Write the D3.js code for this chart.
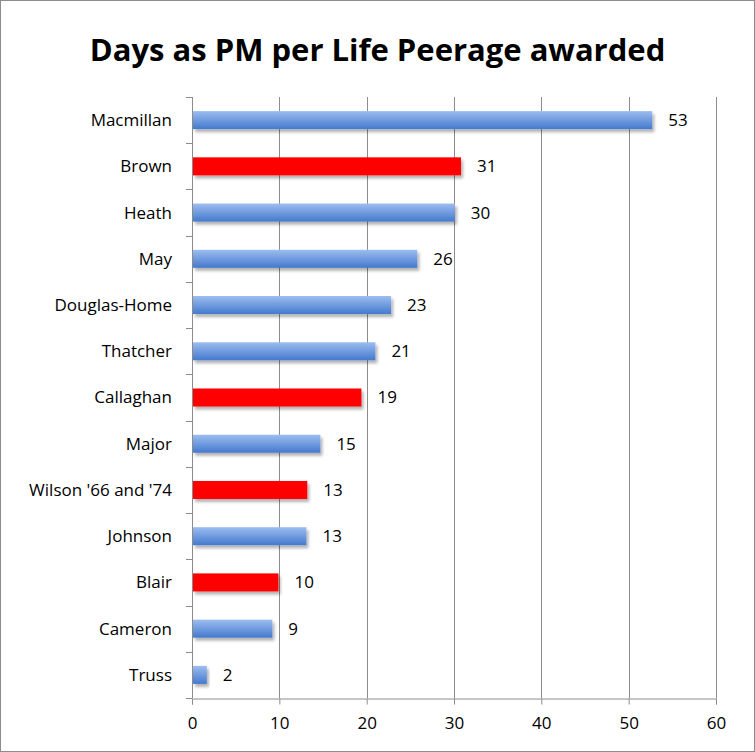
<!DOCTYPE html>
<html>
<head>
<meta charset="utf-8">
<script src="https://d3js.org/d3.v7.min.js"></script>
<style>
  body { margin: 0; background: #fff; }
  svg { display: block; }
</style>
</head>
<body>
<script>
// data
const names = ["Macmillan", "Brown", "Heath", "May", "Douglas-Home", "Thatcher",
  "Callaghan", "Major", "Wilson '66 and '74", "Johnson", "Blair", "Cameron", "Truss"];
const days = [52.7, 30.8, 30.1, 25.8, 22.8, 21.0, 19.4, 14.7, 13.2, 13.1, 9.9, 9.2, 1.7];
const labour = ["Brown", "Callaghan", "Wilson '66 and '74", "Blair"];
const xTicks = [0, 10, 20, 30, 40, 50, 60];

const width = 755, height = 752;
const margin = {top: 97, right: 39, bottom: 54, left: 192};
const boxW = width - margin.left - margin.right;
const boxH = height - margin.top - margin.bottom;
const font = "'Open Sans', 'Liberation Sans', sans-serif";

const svg = d3.select("body").append("svg")
    .attr("width", width)
    .attr("height", height);

const defs = svg.append("defs");
let grad = defs.append("linearGradient")
    .attr("id", "blueGrad")
    .attr("x1", 0).attr("y1", 0).attr("x2", 0).attr("y2", 1);
grad.append("stop").attr("offset", "0%").attr("stop-color", "#9cbdf0");
grad.append("stop").attr("offset", "100%").attr("stop-color", "#4479cd");

let shadow = defs.append("filter")
    .attr("id", "shadow")
    .attr("x", "-10%").attr("y", "-30%")
    .attr("width", "130%").attr("height", "180%");
shadow.append("feDropShadow")
    .attr("dx", 2).attr("dy", 3)
    .attr("stdDeviation", 1.6)
    .attr("flood-color", "#000")
    .attr("flood-opacity", 0.3);

// outer frame
svg.append("rect")
    .attr("x", 0.5).attr("y", 0.5)
    .attr("width", width - 1).attr("height", height - 1)
    .attr("fill", "#fff")
    .attr("stroke", "#8c8c8c");

svg.append("text")
    .attr("x", width / 2)
    .attr("y", 61)
    .attr("text-anchor", "middle")
    .attr("style", "font-family: " + font + "; font-size: 31px; font-weight: bold;")
    .text("Days as PM per Life Peerage awarded");

const g = svg.append("g")
    .attr("transform", "translate(" + margin.left + "," + margin.top + ")");

let x = d3.scaleLinear()
    .domain([0, 60])
    .range([0, boxW]);

let y = d3.scaleBand()
    .domain(names)
    .range([0, boxH])
    .paddingInner(0.61)
    .paddingOuter(0.305);

// gridlines
g.selectAll(".grid")
    .data(xTicks.slice(1))
    .enter()
    .append("line")
    .attr("x1", d => Math.round(x(d)) + 0.5)
    .attr("x2", d => Math.round(x(d)) + 0.5)
    .attr("y1", 0)
    .attr("y2", boxH)
    .attr("stroke", "#8c8c8c");

// x axis
let xAxis = g.append("g")
    .attr("transform", "translate(0," + (boxH + 0.5) + ")")
    .call(d3.axisBottom(x).tickValues(xTicks).tickSize(6).tickPadding(12));
xAxis.select(".domain").attr("stroke", "#8c8c8c");
xAxis.selectAll(".tick line").attr("stroke", "#8c8c8c");
xAxis.selectAll("text")
    .attr("style", "font-family: " + font + "; font-size: 17px;")
    .attr("fill", "#000");

// y axis: ticks sit on band boundaries
let step = y.step();
let bounds = d3.range(names.length + 1).map(i => i * step);
g.append("line")
    .attr("x1", 0.5).attr("x2", 0.5)
    .attr("y1", 0).attr("y2", boxH)
    .attr("stroke", "#8c8c8c");
g.selectAll(".ytick")
    .data(bounds)
    .enter()
    .append("line")
    .attr("x1", -6).attr("x2", 0)
    .attr("y1", d => Math.round(d) + 0.5)
    .attr("y2", d => Math.round(d) + 0.5)
    .attr("stroke", "#8c8c8c");

g.selectAll(".cat")
    .data(names)
    .enter()
    .append("text")
    .attr("x", -20)
    .attr("y", d => y(d) + y.bandwidth() / 2)
    .attr("dy", "0.35em")
    .attr("text-anchor", "end")
    .attr("style", "font-family: " + font + "; font-size: 17px;")
    .text(d => d);

// bars
g.selectAll(".bar")
    .data(names)
    .enter()
    .append("rect")
    .attr("x", 1)
    .attr("y", d => y(d))
    .attr("width", (d, i) => x(days[i]) - 1)
    .attr("height", y.bandwidth())
    .attr("fill", d => labour.includes(d) ? "#ff0000" : "url(#blueGrad)")
    .attr("filter", "url(#shadow)");

g.selectAll(".val")
    .data(names)
    .enter()
    .append("text")
    .attr("x", (d, i) => x(days[i]) + 16)
    .attr("y", d => y(d) + y.bandwidth() / 2)
    .attr("dy", "0.35em")
    .attr("style", "font-family: " + font + "; font-size: 17px;")
    .text((d, i) => d3.format(".0f")(days[i]));
</script>
</body>
</html>
